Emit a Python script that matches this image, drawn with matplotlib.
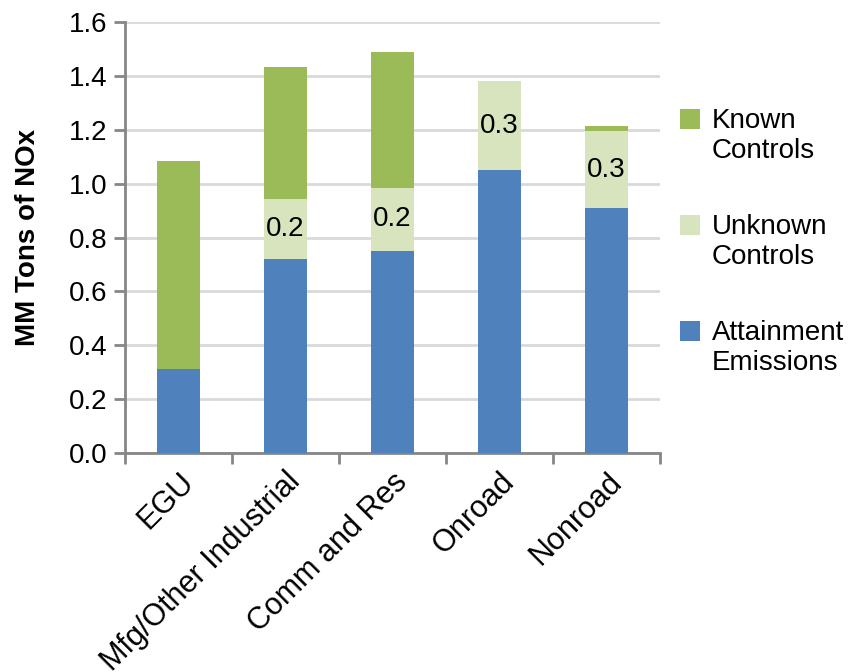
import matplotlib
matplotlib.use("Agg")
import matplotlib.pyplot as plt
from matplotlib.patches import Rectangle
from matplotlib.legend_handler import HandlerPatch
import numpy as np

plt.rcParams['font.family'] = ['Liberation Sans', 'DejaVu Sans']

categories = ["EGU", "Mfg/Other Industrial", "Comm and Res", "Onroad", "Nonroad"]
attainment = [0.31, 0.72, 0.75, 1.05, 0.91]
unknown = [0.0, 0.225, 0.235, 0.33, 0.285]
known = [0.775, 0.49, 0.505, 0.0, 0.02]

c_att = "#4f81bd"
c_unk = "#d7e4bd"
c_kn = "#9bbb59"
grid_c = "#d9d9d9"
spine_c = "#868686"
fs = 20


class TopSquare(HandlerPatch):
    # put the legend square next to the first line of a two-line label
    def create_artists(self, legend, orig_handle, xdescent, ydescent,
                       width, height, fontsize, trans):
        p = Rectangle((-xdescent, -ydescent + 0.62 * fontsize), width, height,
                      facecolor=orig_handle.get_facecolor(), edgecolor="none",
                      transform=trans)
        return [p]


fig = plt.figure(figsize=(8.57, 6.72), dpi=100)
ax = fig.add_axes([0.146, 0.326, 0.624, 0.641])

x = np.arange(len(categories))
att = np.array(attainment)
unk = np.array(unknown)
kn = np.array(known)
w = 0.4

b1 = ax.bar(x, att, w, color=c_att, label="Attainment\nEmissions", zorder=3)
b2 = ax.bar(x, unk, w, bottom=att, color=c_unk, label="Unknown\nControls", zorder=3)
b3 = ax.bar(x, kn, w, bottom=att + unk, color=c_kn, label="Known\nControls", zorder=3)

for i, v in enumerate(unk):
    if v > 0:
        ax.text(x[i], att[i] + v / 2, f"{v:.1f}", ha="center", va="center",
                fontsize=fs, color="black", zorder=4)

ax.set_xlim(-0.5, len(categories) - 0.5)
ax.set_ylim(0, 1.6)
yt = np.arange(0, 1.61, 0.2)
ax.set_yticks(yt)
ax.set_yticklabels([f"{t:.1f}" for t in yt], fontsize=fs)
ax.yaxis.grid(True, color=grid_c, linewidth=2, zorder=0)
ax.set_axisbelow(True)

ax.set_xticks(np.arange(-0.5, len(categories), 1.0))
ax.set_xticklabels([])
ax.set_xticks(x, minor=True)
ax.set_xticklabels(categories, minor=True, rotation=45, ha="right",
                   rotation_mode="anchor", fontsize=22)
ax.tick_params(axis="x", which="minor", length=0, pad=10)
ax.tick_params(axis="x", which="major", length=8, width=2, color=spine_c, direction="out")
ax.tick_params(axis="y", length=8, width=2, color=spine_c, direction="out", pad=5)

for s in ["top", "right"]:
    ax.spines[s].set_visible(False)
for s in ["left", "bottom"]:
    ax.spines[s].set_color(spine_c)
    ax.spines[s].set_linewidth(2)

ax.set_ylabel("MM Tons of NOx", fontsize=20, fontweight="bold", labelpad=20)

ax.legend(handles=[b3[0], b2[0], b1[0]],
          labels=["Known\nControls", "Unknown\nControls", "Attainment\nEmissions"],
          handler_map={Rectangle: TopSquare()},
          loc="center left", bbox_to_anchor=(0.99, 0.49),
          frameon=False, fontsize=fs, handlelength=0.75, handleheight=0.75,
          handletextpad=0.4, labelspacing=1.8)

fig.savefig("out.png", dpi=100)
